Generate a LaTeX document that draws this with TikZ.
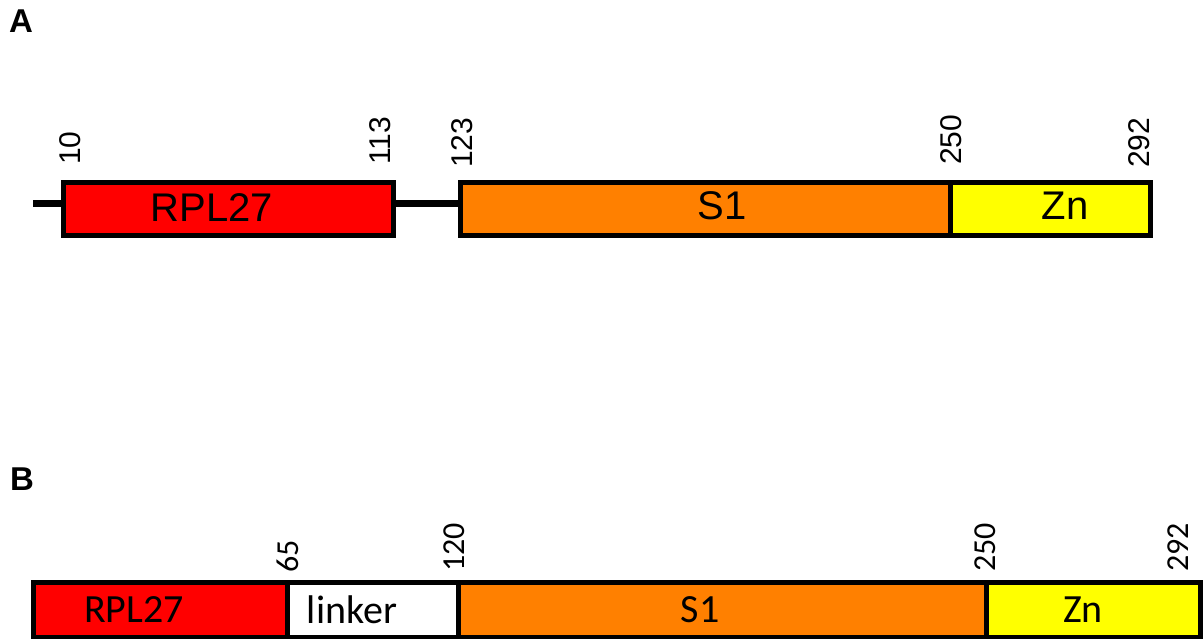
\documentclass[tikz,border=0pt]{standalone}
\usepackage{fontspec}
\setmainfont{Liberation Sans}
\newfontfamily\calfont{Carlito}
\definecolor{dred}{HTML}{FF0000}
\definecolor{dorange}{HTML}{FF8000}
\definecolor{dyellow}{HTML}{FFFF00}
\begin{document}
\begin{tikzpicture}[x=1pt,y=-1pt,
  dom/.style={draw=black,line width=5pt,inner sep=0pt,outer sep=0pt},
  domA/.style={dom,minimum height=52.5pt},
  domB/.style={dom,minimum height=55pt},
  numA/.style={rotate=90,anchor=west,inner sep=0pt,font=\fontsize{30}{36}\selectfont},
  numB/.style={rotate=90,anchor=west,inner sep=0pt,font=\calfont\fontsize{32}{38}\selectfont},
  txtA/.style={inner sep=0pt,font=\fontsize{40}{48}\selectfont},
  txtB/.style={inner sep=0pt,font=\calfont\fontsize{40}{48}\selectfont},
  panel/.style={inner sep=0pt,font=\fontsize{33}{40}\selectfont\bfseries},
  link/.style={line width=7pt}]
\useasboundingbox (0,0) rectangle (1204,639);
% Panel A
\node[panel] (labA) at (21,21) {A};
\coordinate (nterm) at (33,204);
\node[domA,fill=dred,minimum width=330pt] (rplA) at (228.5,208.75) {};
\node[domA,fill=dorange,minimum width=490pt] (s1A) at (705,208.75) {};
\node[domA,fill=dyellow,minimum width=200pt] (znA) at (1050,208.75) {};
\draw[link] (nterm) -- (nterm -| rplA.west);
\draw[link] (nterm -| rplA.east) -- (nterm -| s1A.west);
\draw[dom,fill=none] (rplA.north west) rectangle (rplA.south east);
\draw[dom,fill=none] (s1A.north west) rectangle (s1A.south east);
\node[txtA] (tRplA) at (212,208) {RPL27};
\node[txtA] (tS1A) at (722,206) {S1};
\node[txtA] (tZnA) at (1065,206) {Zn};
\node[numA] (n10) at (70,165) {10};
\node[numA] (n113) at (380,165) {113};
\node[numA] (n123) at (462,168) {123};
\node[numA] (n250A) at (951,165) {250};
\node[numA] (n292A) at (1139,168) {292};
% Panel B
\node[panel] (labB) at (22,479) {B};
\node[domB,fill=dred,minimum width=253.5pt] (rplB) at (160.25,609.5) {};
\node[domB,fill=white,minimum width=171.5pt] (lnkB) at (372.75,609.5) {};
\node[domB,fill=dorange,minimum width=527.5pt] (s1B) at (722.25,609.5) {};
\node[domB,fill=dyellow,minimum width=214pt] (znB) at (1093,609.5) {};
\node[txtB] (tRplB) at (134,610) {RPL27};
\node[txtB] (tLnkB) at (352,610) {linker};
\node[txtB] (tS1B) at (700,610) {S1};
\node[txtB] (tZnB) at (1083,610) {Zn};
\node[numB] (n65) at (288,573) {65};
\node[numB] (n120) at (454,572) {120};
\node[numB] (n250B) at (985,572) {250};
\node[numB] (n292B) at (1178,572) {292};
\end{tikzpicture}
\end{document}
